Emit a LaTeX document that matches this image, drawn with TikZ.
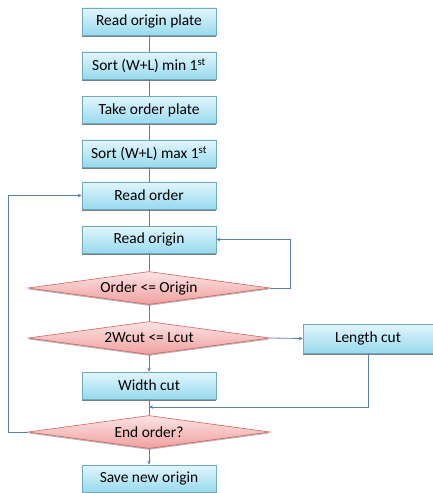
\documentclass[tikz,border=0pt]{standalone}
\usepackage{fontspec}
\setmainfont{Carlito}
\usetikzlibrary{shapes.geometric,arrows.meta,shadows}
\definecolor{lnc}{HTML}{5B7FB0}
\definecolor{boxtop}{HTML}{E2F6FC}
\definecolor{boxbot}{HTML}{98DAEE}
\definecolor{boxdraw}{HTML}{6FAABE}
\definecolor{diatop}{HTML}{FCE3E3}
\definecolor{diabot}{HTML}{F0A0A0}
\definecolor{diadraw}{HTML}{D06462}
\tikzset{
  stepbox/.style={rectangle, minimum width=134bp, minimum height=27bp, inner sep=0pt,
    top color=boxtop, bottom color=boxbot, draw=boxdraw, line width=0.6bp,
    drop shadow={shadow xshift=0bp, shadow yshift=-1.8bp, fill=black!60, opacity=0.85},
    font=\fontsize{15.5}{18}\selectfont},
  decide/.style={diamond, minimum width=242bp, minimum height=33bp, inner sep=0pt, aspect=7,
    top color=diatop, bottom color=diabot, draw=diadraw, line width=0.6bp,
    drop shadow={shadow xshift=0bp, shadow yshift=-1.4bp, fill=black!45, opacity=0.6},
    font=\fontsize{15.5}{18}\selectfont},
  conn/.style={draw=lnc, line width=0.8bp},
  arr/.style={conn, -{Stealth[length=4bp,width=3.5bp]}}
}
\begin{document}
\begin{tikzpicture}[x=1bp,y=-1bp]
\useasboundingbox (0,0) rectangle (433,493);
\node[stepbox] (n1) at (149,21.5) {Read origin plate};
\node[stepbox] (n2) at (149,65.5) {Sort (W+L) min 1\textsuperscript{st}};
\node[stepbox] (n3) at (149,110) {Take order plate};
\node[stepbox] (n4) at (149,153.5) {Sort (W+L) max 1\textsuperscript{st}};
\node[stepbox] (n5) at (149,195.5) {Read order};
\node[stepbox] (n6) at (149,239.5) {Read origin};
\node[decide] (d1) at (149,288) {Order <= Origin};
\node[decide] (d2) at (149,338) {2Wcut <= Lcut};
\node[stepbox, minimum width=130bp, minimum height=29bp] (lc) at (368,338.5) {Length cut};
\node[stepbox] (wc) at (149,385.5) {Width cut};
\node[decide] (d3) at (149,432) {End order?};
\node[stepbox] (sv) at (149,478.5) {Save new origin};
\coordinate (mg) at (149,407);
\draw[conn] (n1) -- (n2);
\draw[conn] (n2) -- (n3);
\draw[conn] (n3) -- (n4);
\draw[conn] (n4) -- (n5);
\draw[conn] (n5) -- (n6);
\draw[conn] (n6) -- (d1);
\draw[conn] (d1) -- (d2);
\draw[arr] (d2) -- (wc);
\draw[conn] (wc) -- (d3);
\draw[arr] (d3) -- (sv);
\draw[arr] (d2.east) -- (lc.west);
\draw[arr] (lc.south) |- (mg);
\draw[arr] (d1.east) -| (290,239.5) -- (n6.east);
\draw[arr] (d3.west) -| (8,195.5) -- (n5.west);
\end{tikzpicture}
\end{document}
